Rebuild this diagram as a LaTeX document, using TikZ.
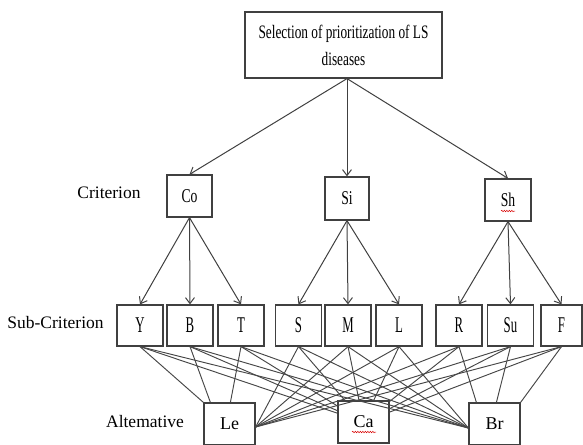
\documentclass[tikz,border=0pt]{standalone}
\usepackage{fontspec}
\setmainfont{Liberation Serif}
\newfontfamily\narrowfont[FakeStretch=0.70]{Liberation Serif}
\newfontfamily\slimfont[FakeStretch=0.57]{Liberation Serif}
\usetikzlibrary{arrows.meta,decorations.pathmorphing}
\begin{document}
\begin{tikzpicture}[x=1pt,y=-1pt,
  box/.style={draw=black!75, line width=1.2pt, fill=white, inner sep=0pt},
  topbox/.style={box, minimum width=197pt, minimum height=66pt, align=center,
    font=\narrowfont\fontsize{19}{27}\selectfont},
  critbox/.style={box, minimum width=45pt, minimum height=42pt,
    font=\narrowfont\fontsize{19.5}{22}\selectfont},
  subbox/.style={box, minimum width=46pt, minimum height=41pt,
    font=\slimfont\fontsize{22.5}{24}\selectfont},
  altbox/.style={box, minimum width=51pt, minimum height=42pt,
    font=\fontsize{18}{22}\selectfont},
  lbl/.style={inner sep=0pt, font=\fontsize{17.5}{20}\selectfont},
  arr/.style={draw=black!75, line width=1pt, -{Straight Barb[length=6pt,width=9pt]}},
  link/.style={draw=black!72, line width=0.95pt},
  squig/.style={draw=red!85!black, line width=0.5pt, decorate,
    decoration={snake, amplitude=0.7pt, segment length=2.5pt}}]
\useasboundingbox (0,0) rectangle (583,444);

% top
\node[topbox] (top) at (343.5,45) {Selection of prioritization of LS\\diseases};

% criteria
\node[critbox] (Co) at (189.5,196) {Co};
\node[critbox, minimum width=44pt, minimum height=43pt] (Si) at (347,198.5) {Si};
\node[critbox, minimum width=46pt] (Sh) at (508,200) {Sh};

% sub-criteria
\node[subbox] (Y) at (140,325.5) {Y};
\node[subbox] (B) at (190,325.5) {B};
\node[subbox] (T) at (241,325.5) {T};
\node[subbox] (S) at (298.5,325.5) {S};
\node[subbox] (M) at (348,325.5) {M};
\node[subbox] (L) at (399,325.5) {L};
\node[subbox] (R) at (459,325.5) {R};
\node[subbox] (Su) at (510.5,325.5) {Su};
\node[subbox, minimum width=41pt] (F) at (561.5,325.5) {F};

% alternatives
\node[altbox] (Le) at (229.5,424) {Le};
\node[altbox] (Ca) at (363.5,422) {Ca};
\node[altbox] (Br) at (494.5,424) {Br};

% row labels
\node[lbl] (lc) at (109,193) {Criterion};
\node[lbl] (ls) at (55.5,323) {Sub-Criterion};
\node[lbl] (la) at (145,422) {Altemative};

% spell-check squiggles
\coordinate (sq1a) at (501,211);
\coordinate (sq1b) at (515,211);
\coordinate (sq2a) at (352,432);
\coordinate (sq2b) at (376,432);
\draw[squig] (sq1a) -- (sq1b);
\draw[squig] (sq2a) -- (sq2b);

% arrows
\draw[arr] ([xshift=3.5pt]top.south) -- (Co.north);
\draw[arr] ([xshift=3.5pt]top.south) -- (Si.north);
\draw[arr] ([xshift=3.5pt]top.south) -- (Sh.north);
\foreach \s in {Y,B,T} \draw[arr] (Co.south) -- (\s.north);
\foreach \s in {S,M,L} \draw[arr] (Si.south) -- (\s.north);
\foreach \s in {R,Su,F} \draw[arr] (Sh.south) -- (\s.north);

% links to Le
\draw[link] (Y.south) -- (Le.north west);
\draw[link] (B.south) -- ([xshift=7pt]Le.north west);
\draw[link] (T.south) -- ([xshift=27pt]Le.north west);
\foreach \s in {S,M,L,R,Su,F} \draw[link] (\s.south) -- ([yshift=-3pt]Le.east);

% links to Ca
\foreach \s in {Y,B,T,S,M,L,R,Su,F} \draw[link] (\s.south) -- (Ca);

% links to Br
\foreach \s in {Y,B,T,S,M,L} \draw[link] (\s.south) -- ([yshift=-4pt]Br.west);
\draw[link] (R.south) -- ([xshift=8pt]Br.north west);
\draw[link] (Su.south) -- ([xshift=28pt]Br.north west);
\draw[link] (F.south) -- (Br.north east);
\end{tikzpicture}
\end{document}
